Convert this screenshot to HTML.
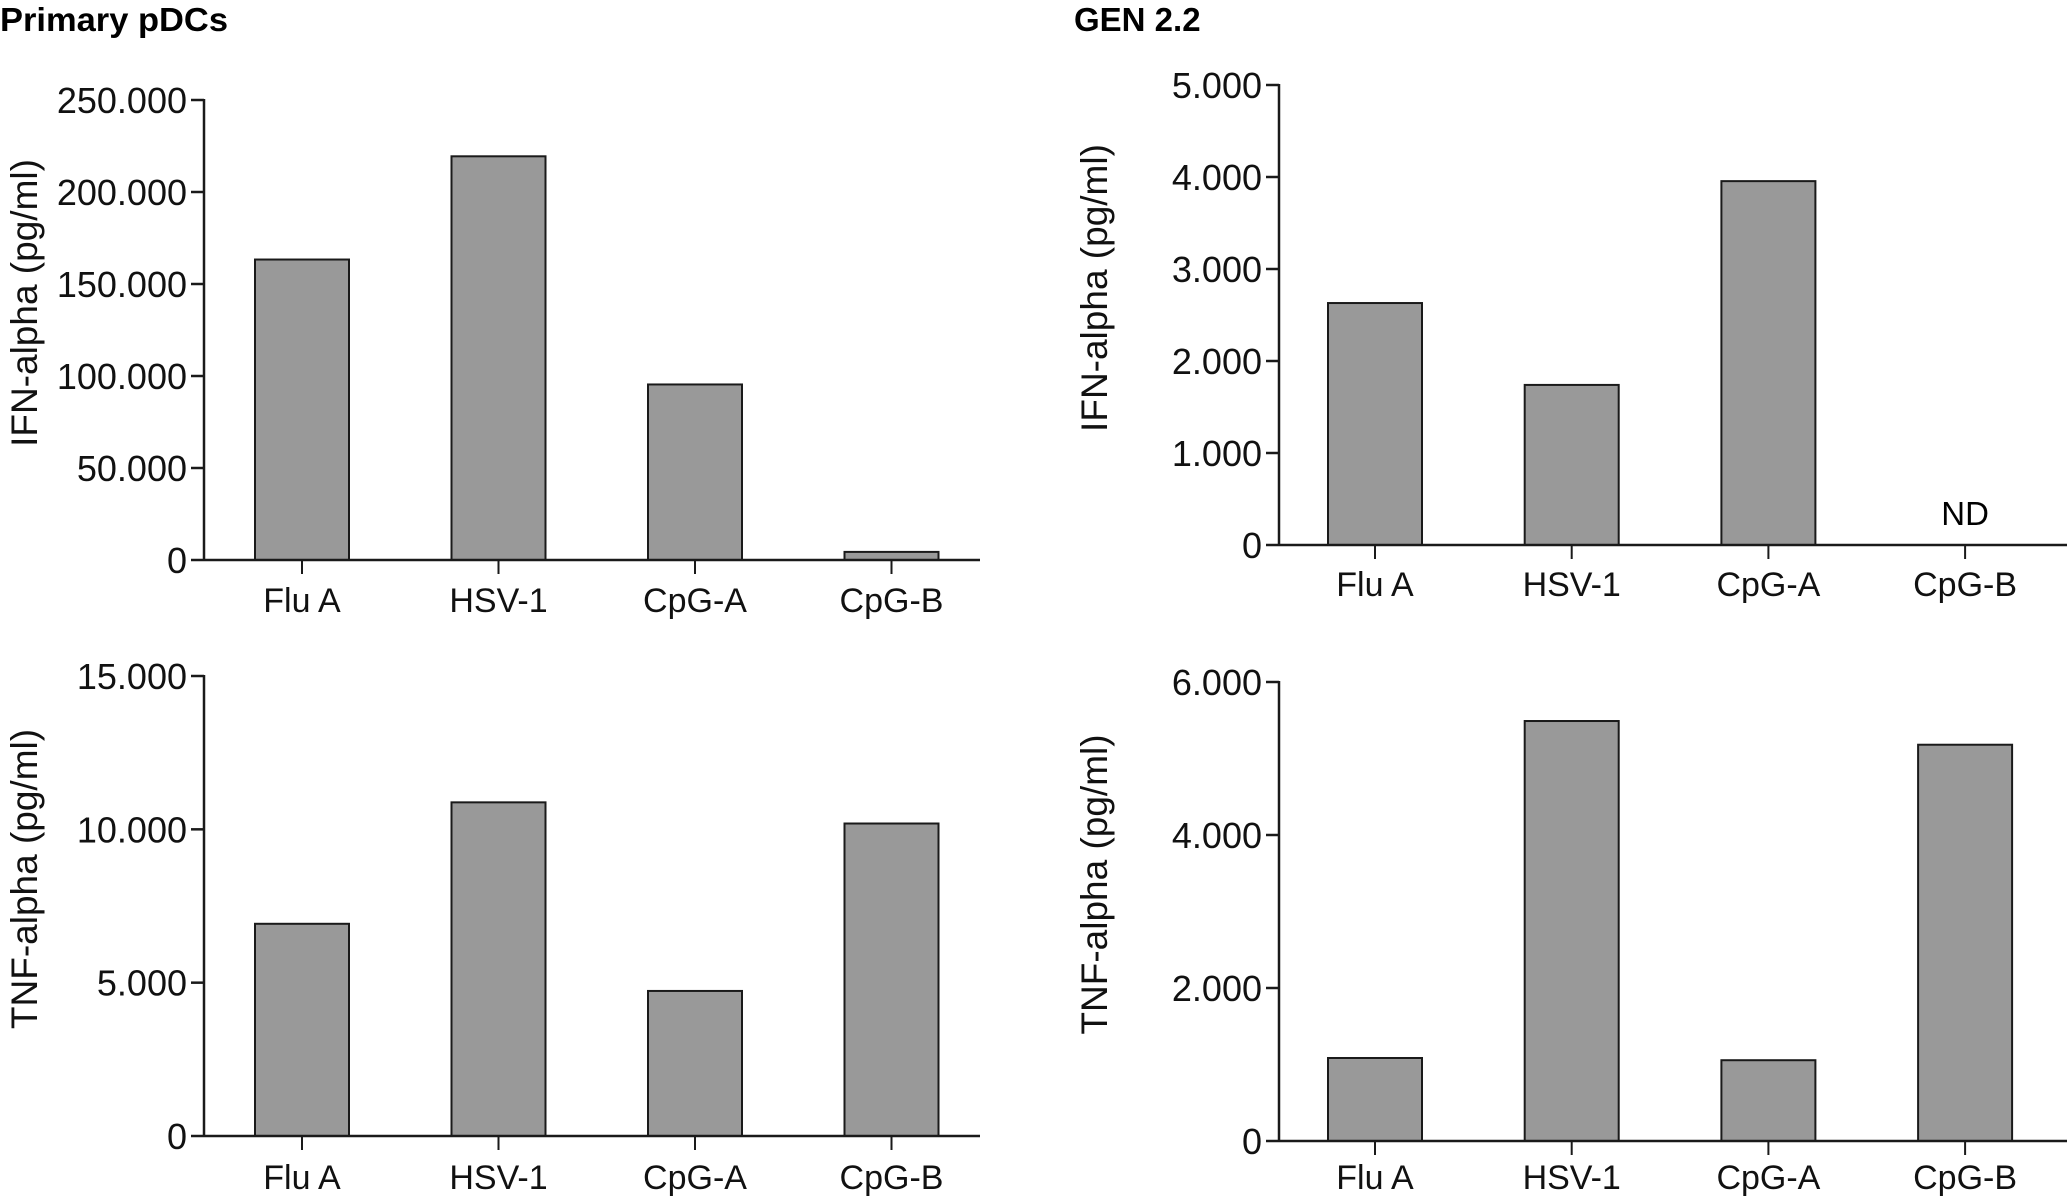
<!DOCTYPE html>
<html><head><meta charset="utf-8">
<style>
html,body{margin:0;padding:0;background:#fff;}
svg{display:block;font-family:"Liberation Sans",Arial,sans-serif;}
</style></head>
<body>
<svg id="fig" width="2067" height="1197" viewBox="0 0 2067 1197" xmlns="http://www.w3.org/2000/svg">
<text x="0" y="31" font-size="33" font-weight="bold" textLength="228" lengthAdjust="spacingAndGlyphs">Primary pDCs</text>
<text x="1074" y="31" font-size="33" font-weight="bold">GEN 2.2</text>
</svg>
<script>
const categories = ["Flu A", "HSV-1", "CpG-A", "CpG-B"];
const ifnPrimary = [163300, 219400, 95400, 4400];
const tnfPrimary = [6920, 10880, 4730, 10190];
const ifnGen = [2630, 1740, 3955, null];
const tnfGen = [1085, 5490, 1056, 5180];
const ticksIfnPrimary = [0, 50000, 100000, 150000, 200000, 250000];
const ticksTnfPrimary = [0, 5000, 10000, 15000];
const ticksIfnGen = [0, 1000, 2000, 3000, 4000, 5000];
const ticksTnfGen = [0, 2000, 4000, 6000];

const NS = "http://www.w3.org/2000/svg";
const svg = document.getElementById("fig");
function mk(tag, attrs, parent) {
  const e = document.createElementNS(NS, tag);
  for (const k in attrs) e.setAttribute(k, attrs[k]);
  (parent || svg).appendChild(e);
  return e;
}
function fmt(v) { return v === 0 ? "0" : v.toLocaleString("en-US").replace(/,/g, "."); }

const panels = [
  {id:"ifn-primary", values: ifnPrimary, ticks: ticksIfnPrimary, ylabel:"IFN-alpha (pg/ml)",
   ax:204, y0:560, y1:100, xEnd:980, x0bar:302, step:196.5, labY:612, ylx:24},
  {id:"tnf-primary", values: tnfPrimary, ticks: ticksTnfPrimary, ylabel:"TNF-alpha (pg/ml)",
   ax:204, y0:1136, y1:676, xEnd:980, x0bar:302, step:196.5, labY:1189, ylx:24},
  {id:"ifn-gen", values: ifnGen, ticks: ticksIfnGen, ylabel:"IFN-alpha (pg/ml)",
   ax:1279, y0:545, y1:85, xEnd:2067, x0bar:1375, step:196.7, labY:596, ylx:1094},
  {id:"tnf-gen", values: tnfGen, ticks: ticksTnfGen, ylabel:"TNF-alpha (pg/ml)",
   ax:1279, y0:1141, y1:682, xEnd:2067, x0bar:1375, step:196.7, labY:1189, ylx:1094}
];

panels.forEach(p => {
  const g = mk("g", {});
  
  
  const maxV = p.ticks[p.ticks.length - 1];
  const yS = v => p.y0 - (v / maxV) * (p.y0 - p.y1);
  const xS = i => p.x0bar + i * p.step;
  const bw = 94;
  p.values.forEach((v, i) => {
    if (v === null) {
      const t = mk("text", {x: xS(i), y: p.y0 - 20, "font-size": 33, "text-anchor": "middle"}, g);
      
      
      t.textContent = "ND";
      return;
    }
    const r = mk("rect", {x: xS(i) - bw/2, y: yS(v), width: bw, height: p.y0 - yS(v),
      fill: "#999999", stroke: "#1a1a1a", "stroke-width": 2}, g);
    
    
  });
  const ya = mk("line", {x1: p.ax, y1: p.y1 - 1, x2: p.ax, y2: p.y0, stroke: "#1a1a1a", "stroke-width": 2.5}, g);
  
  
  p.ticks.forEach(t => {
    const y = yS(t);
    mk("line", {x1: p.ax - 13, y1: y, x2: p.ax, y2: y, stroke: "#1a1a1a", "stroke-width": 2.5}, g);
    const lab = mk("text", {x: p.ax - 17, y: y + 13, "font-size": 36, "text-anchor": "end", fill: "#111"}, g);
    
    
    lab.textContent = fmt(t);
  });
  const xa = mk("line", {x1: p.ax, y1: p.y0, x2: p.xEnd, y2: p.y0, stroke: "#1a1a1a", "stroke-width": 2.5}, g);
  
  
  categories.forEach((c, i) => {
    mk("line", {x1: xS(i), y1: p.y0, x2: xS(i), y2: p.y0 + 14, stroke: "#1a1a1a", "stroke-width": 2}, g);
    const lab = mk("text", {x: xS(i), y: p.labY, "font-size": 34, "text-anchor": "middle", fill: "#111"}, g);
    
    
    lab.textContent = c;
  });
  const cy = (p.y0 + p.y1) / 2 - 27;
  const yl = mk("text", {x: p.ylx, y: cy, "font-size": 37, "text-anchor": "middle",
    transform: "rotate(-90 " + p.ylx + " " + cy + ")", dy: 13, fill: "#111"}, g);
  
  
  yl.textContent = p.ylabel;
});
</script>
</body></html>
